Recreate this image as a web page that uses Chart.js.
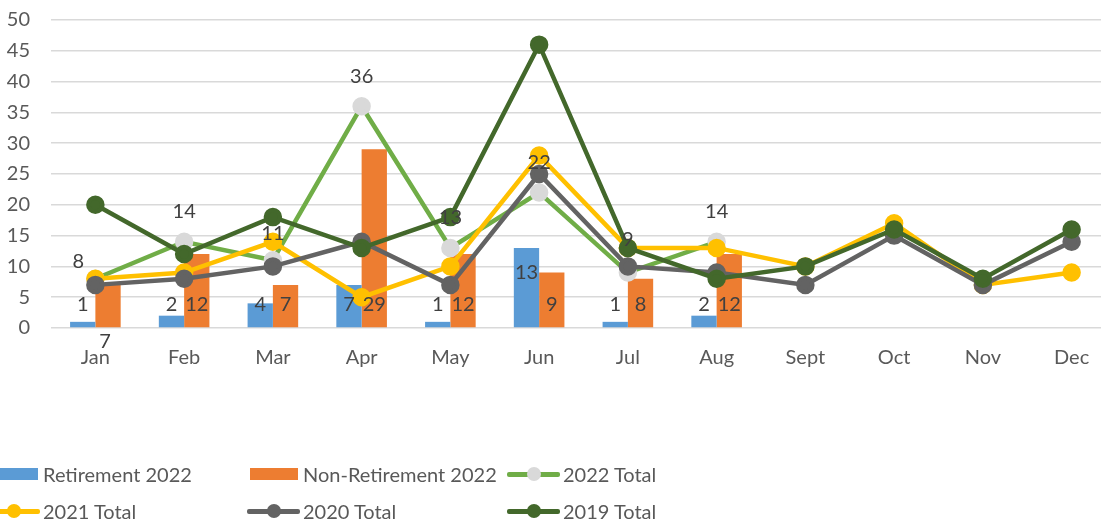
<!DOCTYPE html>
<html>
<head>
<meta charset="utf-8">
<script src="https://cdn.jsdelivr.net/npm/chart.js@4.4.0/dist/chart.umd.min.js"></script>
<style>
  html, body { margin: 0; padding: 0; background: #fff; overflow: hidden; }
  #wrap { position: relative; width: 1116px; height: 520px; }
  #legend { position: absolute; left: 0; top: 0; width: 1101px; height: 520px; font-family: Lato, sans-serif; font-size: 20px; color: #595959; }
  .item { position: absolute; display: flex; align-items: center; height: 24px; white-space: nowrap; }
  .sym { position: relative; width: 53px; height: 14px; margin-right: 3px; }
</style>
</head>
<body>
<div id="wrap">
  <canvas id="chart"></canvas>
  <div id="legend"></div>
</div>
<script>
// valores
var months = ['Jan', 'Feb', 'Mar', 'Apr', 'May', 'Jun', 'Jul', 'Aug', 'Sept', 'Oct', 'Nov', 'Dec'];
var retirement2022 = [1, 2, 4, 7, 1, 13, 1, 2, null, null, null, null];
var nonRetirement2022 = [7, 12, 7, 29, 12, 9, 8, 12, null, null, null, null];
var total2022 = [8, 14, 11, 36, 13, 22, 9, 14, null, null, null, null];
var total2021 = [8, 9, 14, 5, 10, 28, 13, 13, 10, 17, 7, 9];
var total2020 = [7, 8, 10, 14, 7, 25, 10, 9, 7, 15, 7, 14];
var total2019 = [20, 12, 18, 13, 18, 46, 13, 8, 10, 16, 8, 16];
var yTicks = [0, 5, 10, 15, 20, 25, 30, 35, 40, 45, 50];

// ajustes manuales de etiquetas (px)
var labelNudge = {
    'Retirement 2022:5': [0, -32],
    'Non-Retirement 2022:0': [-3, 37],
    '2022 Total:0': [-17, 13],
    '2022 Total:2': [0, 3],
    '2022 Total:6': [0, -3]
};

var fontName = 'Lato, sans-serif';

function lineSet(label, data, color, pointColor, order, showLabels) {
    return {
        type: 'line',
        label: label,
        data: data,
        borderColor: color,
        backgroundColor: pointColor,
        pointBackgroundColor: pointColor,
        pointBorderColor: pointColor,
        pointRadius: 7,
        pointHoverRadius: 7,
        borderWidth: 4.5,
        tension: 0,
        spanGaps: false,
        order: order,
        showLabels: showLabels
    };
}

var dataLabels = {
    id: 'dataLabels',
    afterDatasetsDraw: function (chart) {
        var ctx = chart.ctx;
        ctx.save();
        ctx.font = '20px ' + fontName;
        ctx.fillStyle = '#404040';
        ctx.textAlign = 'center';
        ctx.textBaseline = 'middle';
        chart.data.datasets.forEach(function (ds, di) {
            if (!ds.showLabels) return;
            var meta = chart.getDatasetMeta(di);
            meta.data.forEach(function (el, i) {
                var v = ds.data[i];
                if (v === null || v === undefined) return;
                var n = labelNudge[ds.label + ':' + i] || [0, 0];
                var y = ds.type === 'bar' ? el.base - 23 : el.y - 30;
                ctx.fillText(String(v), el.x + n[0], y + n[1]);
            });
        });
        ctx.restore();
    }
};

var ctx = document.getElementById('chart');
var myChart = new Chart(ctx, {
    type: 'bar',
    data: {
        labels: months,
        datasets: [
            {
                type: 'bar',
                label: 'Retirement 2022',
                data: retirement2022,
                backgroundColor: '#5B9BD5',
                categoryPercentage: 0.57,
                barPercentage: 1,
                order: 7,
                showLabels: true
            },
            {
                type: 'bar',
                label: 'Non-Retirement 2022',
                data: nonRetirement2022,
                backgroundColor: '#ED7D31',
                categoryPercentage: 0.57,
                barPercentage: 1,
                order: 8,
                showLabels: true
            },
            lineSet('2022 Total', total2022, '#70AD47', '#D9D9D9', 4, true),
            lineSet('2021 Total', total2021, '#FFC000', '#FFC000', 3, false),
            lineSet('2020 Total', total2020, '#636363', '#636363', 2, false),
            lineSet('2019 Total', total2019, '#43682B', '#43682B', 1, false)
        ]
    },
    options: {
        responsive: true,
        maintainAspectRatio: false,
        animation: false,
        layout: { autoPadding: false, padding: { top: 20, right: 0, left: 0, bottom: 0 } },
        plugins: {
            legend: { display: false },
            tooltip: { enabled: false }
        },
        scales: {
            x: {
                grid: { display: false, drawTicks: false },
                border: { display: false },
                ticks: { color: '#595959', font: { family: fontName, size: 20 }, padding: 18, maxRotation: 0, autoSkip: false },
                afterFit: function (scale) { scale.height = 192; }
            },
            y: {
                min: 0,
                max: 50,
                afterBuildTicks: function (scale) {
                    scale.ticks = yTicks.map(function (v) { return { value: v }; });
                },
                grid: { color: '#D9D9D9', lineWidth: 1.5, drawTicks: false },
                border: { display: false },
                ticks: { color: '#595959', font: { family: fontName, size: 20 }, padding: 21 },
                afterFit: function (scale) { scale.width = 51; scale.paddingTop = 0; }
            }
        }
    },
    plugins: [dataLabels]
});

// leyenda a mano, dos filas de tres
function buildLegend() {
    var box = document.getElementById('legend');
    var colX = [-13, 247, 507];
    var rowY = [474, 511];
    myChart.data.datasets.forEach(function (ds, i) {
        var item = document.createElement('div');
        item.className = 'item';
        item.style.left = colX[i % 3] + 'px';
        item.style.top = (rowY[Math.floor(i / 3)] - 12) + 'px';
        var sym = document.createElement('div');
        sym.className = 'sym';
        if (ds.type === 'bar') {
            var rect = document.createElement('div');
            rect.style.cssText = 'position:absolute;left:3px;width:48px;top:1px;height:12px;background:' + ds.backgroundColor;
            sym.appendChild(rect);
        } else {
            var ln = document.createElement('div');
            ln.style.cssText = 'position:absolute;left:0;right:0;top:5px;height:5px;border-radius:2px;background:' + ds.borderColor;
            var dot = document.createElement('div');
            dot.style.cssText = 'position:absolute;left:20px;top:0;width:14px;height:14px;border-radius:7px;background:' + ds.pointBackgroundColor;
            sym.appendChild(ln);
            sym.appendChild(dot);
        }
        var txt = document.createElement('span');
        txt.textContent = ds.label;
        item.appendChild(sym);
        item.appendChild(txt);
        box.appendChild(item);
    });
}
buildLegend();
</script>
</body>
</html>
